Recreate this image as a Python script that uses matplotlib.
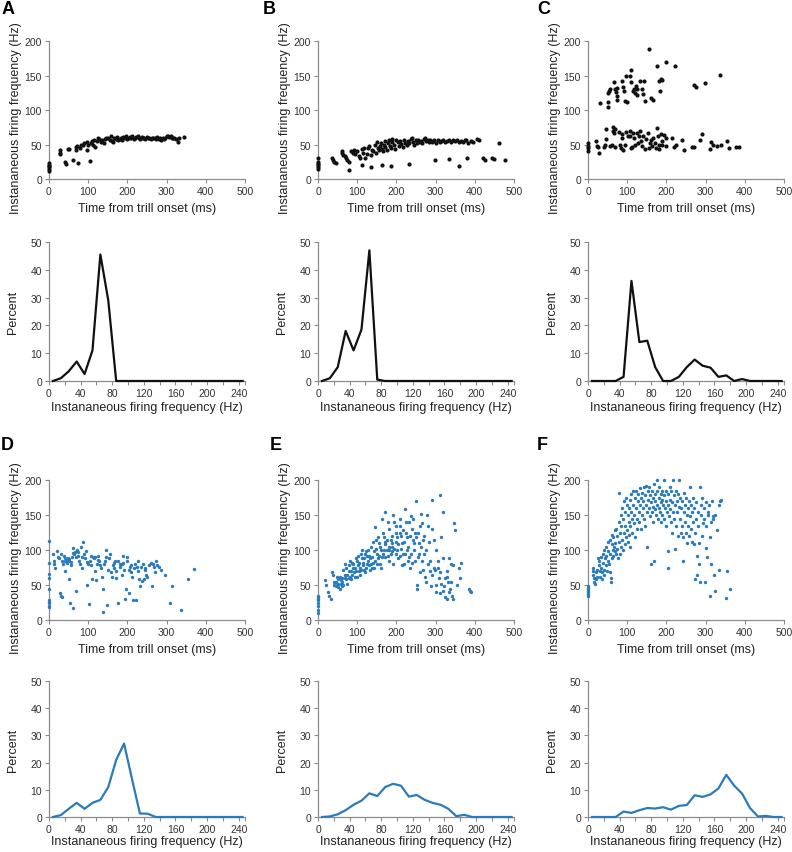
#!/usr/bin/env python3
"""
Instantaneous firing frequency vs. time from trill onset (A-F) with the
matching firing-frequency distributions underneath each scatter panel.

Output:
  out.png
"""

import matplotlib
matplotlib.use("Agg")
import matplotlib.pyplot as plt
import numpy as np

plt.rcParams["font.family"] = ["Liberation Sans", "DejaVu Sans"]

# ---------------------------------------------------------------------------
# Data
# ---------------------------------------------------------------------------

# histogram bin centres (Hz), 10 Hz bins
bin_centres = list(range(5, 250, 10))

# percent per bin, panels A-F
hist_a = [0, 1, 3.5, 7, 2.5, 11, 45.5, 29, 0] + [0] * 16
hist_b = [0, 1, 5, 18, 11, 18.5, 47, 0.5, 0] + [0] * 16
hist_c = [0, 0, 0, 0, 1.5, 36, 14, 14.5, 5, 0, 0, 1.5, 5, 7.7, 5.5, 4.8,
          1.5, 2, 0, 0.7, 0, 0, 0, 0, 0]
hist_d = [0, 0.7, 3, 5.2, 3, 5.2, 6.3, 11, 21, 27, 14, 1.3, 1.2, 0, 0, 0,
          0, 0, 0, 0, 0, 0, 0, 0, 0]
hist_e = [0, 0.2, 1, 2.5, 4.5, 6, 8.7, 7.7, 11, 12.2, 11.5, 7.5, 8.1, 6.3,
          5.2, 4.5, 3, 0.3, 0.8, 0, 0, 0, 0, 0, 0]
hist_f = [0, 0, 0, 0, 2, 1.5, 2.5, 3.3, 3.1, 3.6, 2.7, 4.1, 4.4, 8, 7.4,
          8.3, 10.5, 15.5, 11.5, 8.6, 3.3, 0.2, 0.4, 0, 0]

# (time ms, instantaneous frequency Hz) pairs
spikes_a = [
    (0, 12), (0, 15), (0, 17), (0, 19), (0, 21), (0, 23),
    (27, 42), (28, 38), (29, 36), (42, 24), (44, 22), (48, 44), (50, 43),
    (62, 27), (68, 42), (70, 46), (71, 48), (73, 23), (78, 45), (82, 49),
    (86, 50), (90, 52), (96, 42), (98, 54), (100, 50), (104, 26), (106, 52),
    (110, 55), (112, 49), (115, 57), (118, 47), (122, 55), (125, 60),
    (128, 58), (132, 54), (135, 57), (140, 52), (142, 58), (145, 59),
    (150, 60), (155, 57), (158, 62), (160, 55), (163, 53), (165, 60),
    (170, 58), (173, 61), (176, 56), (180, 58), (183, 60), (186, 57),
    (190, 61), (193, 59), (196, 62), (200, 58), (203, 60), (206, 61),
    (210, 59), (213, 62), (216, 58), (220, 60), (223, 61), (226, 63),
    (230, 60), (233, 58), (236, 61), (240, 59), (243, 60), (246, 58),
    (250, 61), (253, 59), (256, 60), (260, 58), (263, 60), (266, 59),
    (270, 60), (273, 58), (276, 61), (280, 58), (283, 60), (286, 57),
    (290, 59), (293, 58), (296, 60), (300, 62), (303, 63), (306, 61),
    (310, 62), (313, 60), (316, 59), (320, 60), (325, 58), (328, 53),
    (332, 59), (345, 61),
]

spikes_b = [
    (0, 15), (0, 18), (0, 20), (0, 22), (0, 25), (0, 30),
    (78, 13), (112, 21), (135, 17), (163, 20), (187, 19), (232, 22),
    (298, 27), (335, 29), (360, 19), (380, 30), (420, 30), (425, 28),
    (445, 30), (448, 29), (478, 28), (463, 52),
    (35, 30), (38, 28), (42, 25), (45, 23), (60, 40), (62, 37), (65, 35),
    (70, 33), (72, 30), (75, 27), (80, 25), (85, 40), (90, 38), (92, 42),
    (95, 36), (100, 40), (105, 33), (108, 31), (112, 44), (115, 38),
    (118, 45), (120, 30), (125, 36), (128, 45), (130, 48), (135, 35),
    (138, 42), (140, 40), (145, 50), (148, 38), (150, 53), (152, 45),
    (155, 42), (158, 48), (160, 52), (163, 44), (165, 40), (168, 50),
    (170, 55), (172, 47), (175, 42), (178, 52), (180, 56), (183, 48),
    (185, 45), (188, 54), (190, 58), (193, 50), (196, 44), (200, 56),
    (203, 53), (206, 48), (210, 55), (213, 51), (216, 46), (220, 57),
    (223, 52), (226, 49), (230, 55), (233, 52), (236, 58), (240, 60),
    (243, 54), (246, 50), (250, 56), (253, 52), (256, 57), (260, 54),
    (263, 55), (266, 52), (270, 58), (273, 60), (276, 55), (280, 57),
    (283, 54), (286, 56), (290, 53), (293, 55), (296, 57), (300, 52),
    (305, 56), (310, 53), (315, 55), (320, 57), (325, 54), (330, 55),
    (335, 56), (340, 53), (345, 57), (350, 55), (355, 56), (360, 54),
    (365, 55), (370, 53), (375, 57), (378, 56), (382, 52), (390, 55),
    (395, 53), (405, 58), (410, 57),
]

spikes_c = [
    # upper (doublet) cluster
    (30, 110), (50, 105), (50, 112), (52, 124), (53, 127), (55, 131),
    (67, 140), (70, 130), (72, 126), (73, 120), (75, 115), (75, 132),
    (88, 142), (90, 134), (93, 128), (95, 113), (98, 150), (100, 112),
    (108, 150), (110, 158), (110, 140), (115, 127), (117, 130), (120, 125),
    (122, 135), (125, 122), (125, 130), (133, 142), (137, 130), (140, 123),
    (142, 142), (145, 113), (155, 188), (160, 117), (165, 115), (175, 164),
    (180, 142), (183, 128), (185, 145), (190, 143), (198, 169), (222, 164),
    (270, 136), (275, 133), (298, 139), (338, 151),
    # lower cluster
    (0, 40), (0, 45), (0, 48), (0, 52), (20, 55), (22, 48), (25, 46),
    (28, 37), (42, 47), (44, 50), (45, 58), (47, 72), (55, 48), (62, 49),
    (63, 76), (65, 70), (67, 67), (68, 72), (70, 47), (80, 68), (82, 50),
    (85, 45), (87, 60), (88, 65), (90, 42), (95, 50), (98, 68), (102, 63),
    (108, 62), (108, 69), (110, 45), (112, 47), (115, 66), (118, 60),
    (120, 50), (125, 67), (128, 52), (130, 63), (133, 70), (135, 55),
    (137, 48), (140, 62), (145, 44), (148, 58), (152, 66), (155, 45),
    (158, 52), (160, 56), (163, 48), (165, 60), (170, 52), (173, 45),
    (175, 74), (178, 62), (180, 43), (182, 50), (185, 65), (188, 55),
    (190, 49), (195, 64), (198, 60), (200, 48), (215, 60), (220, 47),
    (225, 49), (240, 57), (245, 42), (265, 47), (270, 46), (285, 57),
    (290, 65), (310, 43), (315, 53), (320, 50), (330, 48), (340, 49),
    (355, 55), (360, 45), (378, 47), (385, 47),
]

spikes_d = [
    (0, 113), (0, 82), (0, 66), (0, 60), (0, 45), (0, 28), (0, 26),
    (0, 24), (0, 20), (0, 18),
    (10, 95), (12, 85), (14, 80), (15, 75), (20, 98), (22, 90), (25, 88),
    (28, 38), (30, 35), (32, 33), (30, 95), (33, 85), (35, 80), (38, 92),
    (40, 70), (42, 85), (45, 82), (48, 88), (50, 84), (52, 58), (54, 25),
    (55, 78), (58, 90), (60, 17), (62, 103), (65, 95), (67, 97), (70, 42),
    (72, 100), (75, 92), (77, 85), (80, 80), (82, 104), (85, 75), (88, 112),
    (90, 95), (92, 88), (95, 98), (98, 50), (100, 80), (102, 23), (104, 85),
    (106, 92), (108, 78), (110, 58), (112, 90), (115, 88), (118, 70),
    (120, 57), (122, 80), (125, 92), (128, 85), (130, 78), (132, 75),
    (135, 62), (137, 45), (138, 12), (140, 80), (142, 85), (145, 100),
    (148, 22), (150, 72), (152, 88), (155, 95), (158, 68), (160, 62),
    (163, 78), (165, 75), (168, 84), (170, 70), (172, 60), (175, 25),
    (177, 85), (180, 80), (182, 76), (185, 65), (188, 92), (190, 82),
    (192, 72), (195, 30), (196, 45), (198, 90), (200, 85), (203, 38),
    (205, 72), (208, 78), (210, 68), (212, 62), (215, 28), (218, 75),
    (220, 80), (222, 29), (225, 76), (228, 85), (230, 58), (232, 48),
    (235, 76), (238, 56), (240, 80), (243, 58), (245, 75), (248, 65),
    (250, 62), (255, 78), (260, 82), (262, 48), (265, 80), (268, 76),
    (270, 68), (272, 85), (275, 78), (280, 76), (285, 72), (295, 65),
    (308, 25), (315, 48), (338, 15), (355, 58), (370, 73),
    (40, 88), (44, 86), (50, 87), (56, 83), (60, 96), (68, 90), (74, 97),
    (84, 90), (96, 83), (118, 90), (126, 86), (146, 90), (166, 82),
    (186, 80), (206, 76), (226, 70), (246, 72),
]

spikes_e = [
    (0, 10), (0, 15), (0, 20), (0, 25), (0, 28), (0, 30), (0, 33), (0, 35),
    (18, 57), (20, 50), (25, 40), (28, 35), (32, 30), (35, 68), (38, 65),
    (40, 55), (42, 50), (45, 48), (48, 62), (50, 52), (52, 47), (55, 45),
    (58, 57), (60, 60), (62, 55), (65, 50), (68, 80), (70, 65), (72, 58),
    (75, 52), (78, 70), (80, 78), (82, 62), (85, 58), (88, 82), (90, 75),
    (92, 68), (95, 62), (98, 88), (100, 85), (102, 78), (105, 70),
    (108, 65), (110, 95), (112, 88), (115, 82), (118, 72), (120, 68),
    (122, 98), (125, 92), (128, 85), (130, 78), (132, 72), (135, 105),
    (138, 90), (140, 82), (142, 75), (145, 133), (148, 115), (150, 95),
    (152, 88), (155, 110), (158, 80), (160, 75), (162, 145), (165, 125),
    (168, 118), (170, 155), (172, 108), (175, 100), (178, 92), (180, 85),
    (182, 130), (185, 115), (188, 105), (190, 98), (192, 150), (195, 140),
    (198, 125), (200, 112), (202, 100), (205, 88), (208, 145), (210, 135),
    (212, 120), (215, 110), (218, 95), (220, 80), (222, 158), (225, 140),
    (228, 118), (230, 105), (232, 90), (235, 75), (238, 148), (240, 130),
    (242, 115), (245, 100), (248, 85), (250, 170), (252, 50), (253, 45),
    (255, 125), (258, 110), (260, 68), (262, 152), (265, 138), (268, 115),
    (270, 95), (272, 62), (275, 55), (278, 150), (280, 135), (282, 112),
    (285, 85), (288, 48), (290, 172), (292, 130), (295, 115), (298, 72),
    (300, 40), (302, 100), (305, 75), (308, 60), (310, 38), (312, 178),
    (315, 118), (318, 155), (320, 88), (322, 48), (325, 33), (328, 30),
    (330, 62), (332, 55), (335, 88), (338, 45), (340, 80), (342, 35),
    (345, 78), (348, 138), (350, 128), (355, 50), (360, 75), (362, 60),
    (365, 82), (385, 45), (388, 42), (390, 40),
    (45, 55), (48, 50), (52, 58), (55, 62), (58, 52), (62, 48), (65, 72),
    (68, 60), (72, 75), (75, 65), (78, 60), (82, 85), (85, 70), (88, 65),
    (90, 80), (95, 75), (98, 70), (100, 62), (102, 92), (105, 82),
    (108, 75), (110, 72), (112, 100), (115, 78), (118, 88), (120, 95),
    (122, 75), (125, 80), (128, 100), (130, 92), (132, 88), (135, 80),
    (138, 75), (140, 112), (142, 98), (145, 85), (148, 102), (150, 80),
    (152, 118), (155, 92), (158, 105), (160, 100), (162, 90), (165, 95),
    (168, 100), (170, 112), (172, 90), (175, 115), (178, 140), (180, 105),
    (182, 100), (185, 95), (188, 120), (190, 110), (192, 80), (195, 102),
    (198, 95), (200, 135), (202, 118), (205, 108), (208, 92), (210, 125),
    (212, 102), (215, 78), (218, 128), (220, 112), (222, 95), (225, 125),
    (228, 100), (230, 85), (232, 140), (235, 120), (238, 95), (240, 82),
    (242, 145), (245, 110), (248, 125), (250, 118), (255, 90), (258, 95),
    (260, 135), (262, 105), (265, 85), (268, 72), (270, 120), (275, 100),
    (280, 80), (285, 70), (290, 65), (295, 75), (300, 50), (305, 85),
    (310, 68), (315, 52), (320, 42), (325, 60), (330, 70), (335, 40),
    (340, 55), (345, 30),
]

spikes_f = [
    (0, 35), (0, 37), (0, 40), (0, 42), (0, 44), (0, 46), (0, 48),
    (12, 75), (13, 70), (14, 65), (15, 60), (16, 55), (18, 52), (20, 58),
    (20, 68), (22, 72), (24, 62), (25, 88), (27, 85), (28, 78), (30, 70),
    (30, 62), (32, 90), (33, 75), (35, 68), (36, 58), (38, 82), (38, 95),
    (40, 100), (40, 72), (42, 65), (43, 88), (45, 105), (45, 78), (47, 92),
    (48, 70), (50, 85), (50, 112), (52, 98), (53, 80), (55, 115), (55, 68),
    (57, 95), (58, 60), (58, 55), (60, 108), (60, 88), (62, 122), (63, 100),
    (65, 92), (65, 118), (67, 105), (68, 128), (70, 98), (70, 110),
    (72, 95), (72, 130), (75, 102), (75, 120), (77, 88), (78, 140),
    (80, 182), (80, 112), (82, 95), (82, 125), (84, 150), (85, 105),
    (85, 135), (87, 115), (88, 160), (90, 100), (90, 145), (92, 170),
    (92, 125), (94, 108), (95, 155), (95, 135), (97, 118), (98, 175),
    (100, 165), (100, 128), (102, 150), (102, 112), (104, 140), (105, 160),
    (105, 122), (107, 172), (108, 135), (108, 105), (110, 155), (110, 180),
    (112, 145), (113, 125), (115, 165), (115, 185), (117, 138), (118, 150),
    (120, 175), (120, 118), (122, 160), (123, 185), (125, 145), (125, 130),
    (127, 170), (128, 180), (130, 155), (130, 140), (132, 188), (133, 165),
    (135, 175), (135, 130), (137, 150), (138, 182), (140, 170), (140, 160),
    (142, 190), (143, 145), (145, 178), (145, 135), (147, 165), (148, 192),
    (150, 155), (150, 105), (152, 185), (152, 172), (155, 160), (155, 190),
    (157, 148), (158, 178), (160, 168), (160, 80), (162, 155), (163, 185),
    (165, 175), (165, 140), (167, 162), (168, 85), (168, 195), (170, 158),
    (170, 180), (172, 170), (173, 150), (175, 185), (175, 165), (177, 200),
    (178, 145), (180, 175), (180, 160), (182, 190), (183, 155), (185, 180),
    (185, 168), (187, 140), (188, 172), (190, 185), (190, 150), (192, 165),
    (193, 200), (195, 178), (195, 145), (197, 160), (198, 185), (200, 170),
    (200, 135), (202, 155), (203, 98), (203, 75), (205, 180), (205, 165),
    (207, 148), (208, 190), (210, 172), (210, 158), (212, 140), (213, 185),
    (215, 168), (215, 125), (217, 200), (218, 155), (220, 178), (220, 145),
    (222, 102), (223, 165), (225, 185), (225, 135), (227, 170), (228, 155),
    (230, 120), (230, 180), (232, 162), (233, 200), (235, 145), (235, 175),
    (237, 125), (238, 160), (240, 170), (240, 135), (242, 118), (243, 85),
    (245, 182), (245, 155), (247, 140), (248, 165), (250, 125), (250, 175),
    (252, 150), (253, 110), (255, 160), (255, 135), (257, 170), (258, 120),
    (260, 148), (260, 190), (262, 165), (263, 130), (265, 155), (265, 112),
    (267, 175), (268, 140), (270, 160), (270, 108), (272, 125), (273, 58),
    (275, 168), (275, 145), (277, 92), (278, 65), (280, 155), (280, 135),
    (282, 80), (283, 110), (285, 190), (285, 55), (287, 165), (288, 150),
    (290, 120), (292, 175), (293, 138), (295, 160), (297, 145), (298, 55),
    (300, 103), (300, 168), (302, 135), (303, 90), (305, 155), (307, 150),
    (308, 165), (310, 118), (312, 35), (313, 140), (315, 80), (317, 170),
    (318, 148), (320, 145), (322, 65), (323, 42), (325, 150), (328, 128),
    (333, 72), (335, 165), (338, 170), (340, 172), (352, 32), (355, 70),
    (362, 45),
]

BLACK = "#111111"
BLUE = "#2b7bba"
SPINE = "#8c8c8c"

# ---------------------------------------------------------------------------
# Layout (figure pixels -> fractions)
# ---------------------------------------------------------------------------

W, H = 792, 853
LABEL_SIZE = 9


def px_axes(fig, left, top, width, height):
    return fig.add_axes([left / W, 1 - (top + height) / H, width / W, height / H])


def style_axes(ax):
    for side in ("top", "right"):
        ax.spines[side].set_visible(False)
    for side in ("left", "bottom"):
        ax.spines[side].set_color(SPINE)
        ax.spines[side].set_linewidth(0.9)
    ax.tick_params(which="both", direction="out", length=3, width=0.8,
                   color=SPINE, labelsize=7.5, labelcolor="#333333", pad=2)


def scatter_panel(ax, pts, color, size, xlab_y):
    t, f = np.array(pts, dtype=float).T
    ax.scatter(t, f, s=size, color=color, linewidths=0, clip_on=False,
               zorder=3)
    ax.set_xlim(0, 500)
    ax.set_ylim(0, 200)
    ax.set_xticks(range(0, 501, 100))
    ax.set_yticks(range(0, 201, 50))
    style_axes(ax)
    ax.set_xlabel("Time from trill onset (ms)", fontsize=LABEL_SIZE,
                  color="#222222")
    ax.set_ylabel("Instananeous firing frequency (Hz)", fontsize=LABEL_SIZE,
                  color="#222222")
    ax.xaxis.set_label_coords(0.5, xlab_y)
    ax.yaxis.set_label_coords(-0.14, 0.45)


def hist_panel(ax, values, color, xlab_y):
    ax.plot(bin_centres, values, color=color, lw=1.6, clip_on=False, zorder=3)
    ax.set_xlim(0, 248)
    ax.set_ylim(0, 50)
    ax.set_xticks(range(0, 241, 40))
    ax.set_xticks(list(range(0, 241, 20)) + [248], minor=True)
    ax.set_yticks(range(0, 51, 10))
    style_axes(ax)
    ax.set_xlabel("Instananeous firing frequency (Hz)", fontsize=LABEL_SIZE,
                  color="#222222")
    ax.set_ylabel("Percent", fontsize=LABEL_SIZE, color="#222222")
    ax.xaxis.set_label_coords(0.5, xlab_y)
    ax.yaxis.set_label_coords(-0.155, 0.5)


def main():
    fig = plt.figure(figsize=(W / 100, H / 100), dpi=100)

    lefts = [49, 318, 588]
    width = 196

    top_scatter = [spikes_a, spikes_b, spikes_c]
    top_hist = [hist_a, hist_b, hist_c]
    bot_scatter = [spikes_d, spikes_e, spikes_f]
    bot_hist = [hist_d, hist_e, hist_f]

    for i, left in enumerate(lefts):
        ax = px_axes(fig, left, 42, width, 138)
        scatter_panel(ax, top_scatter[i], BLACK, 9, -0.165)
        ax = px_axes(fig, left, 243, width, 139)
        hist_panel(ax, top_hist[i], BLACK, -0.145)
        ax = px_axes(fig, left, 481, width, 140)
        scatter_panel(ax, bot_scatter[i], BLUE, 6, -0.165)
        ax = px_axes(fig, left, 682, width, 136)
        hist_panel(ax, bot_hist[i], BLUE, -0.135)

    # panel letters
    letters = [("A", 2, 10), ("B", 263, 10), ("C", 537, 10),
               ("D", 1, 446), ("E", 270, 446), ("F", 537, 446)]
    for txt, x, y in letters:
        fig.text(x / W, 1 - y / H, txt, fontsize=13, fontweight="bold",
                 va="center", ha="left", color="black")

    fig.savefig("out.png", dpi=100)


if __name__ == "__main__":
    main()
